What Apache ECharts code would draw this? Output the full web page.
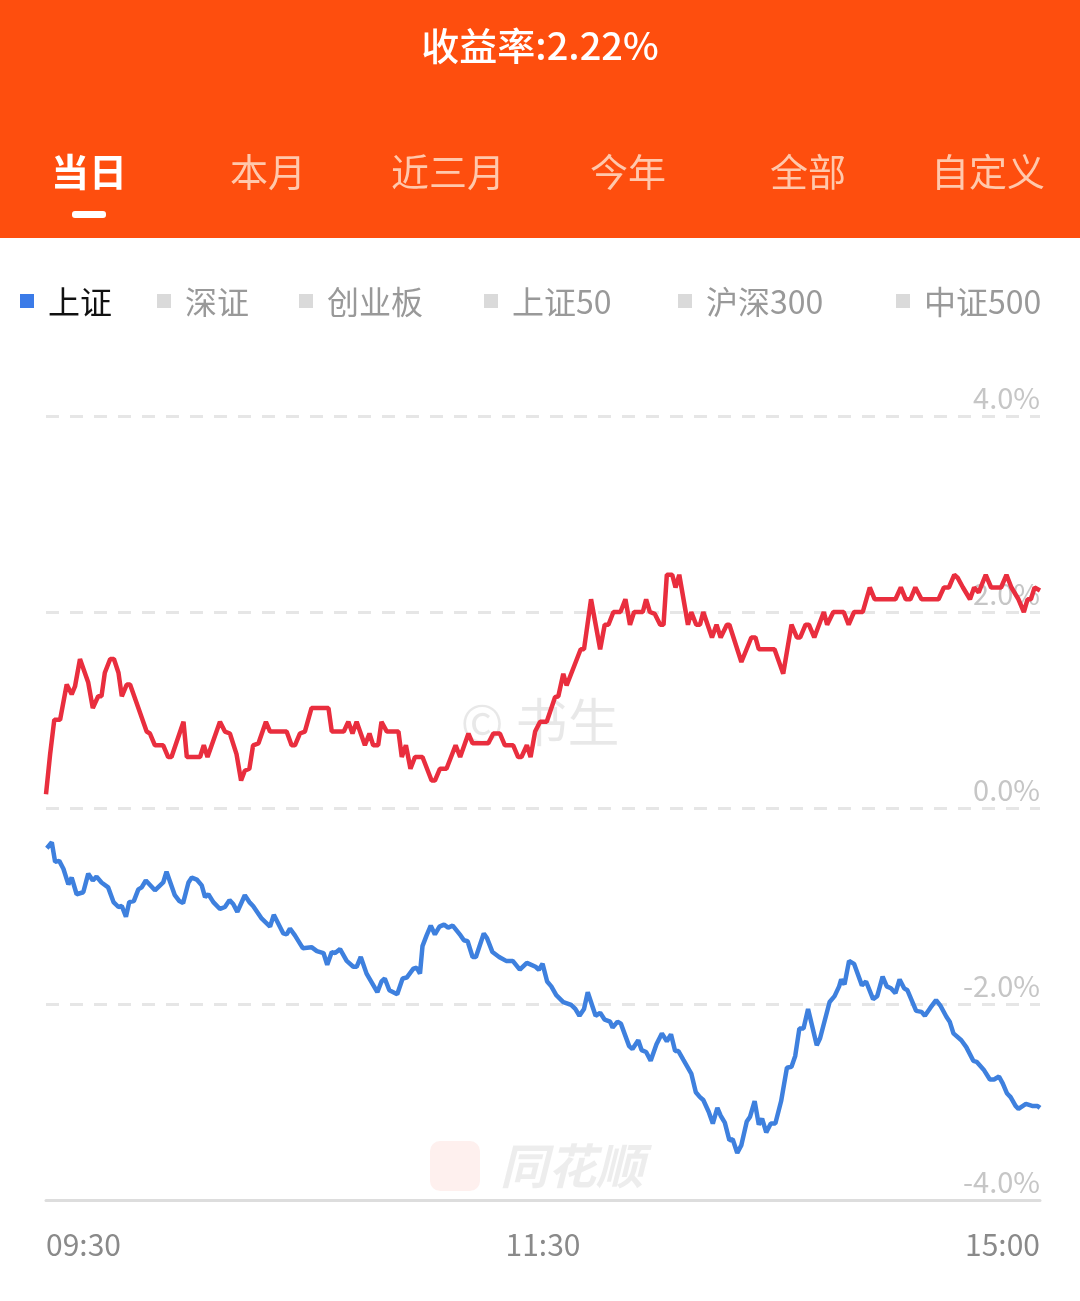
<!DOCTYPE html>
<html><head><meta charset="utf-8">
<script src="https://cdn.jsdelivr.net/npm/echarts@6/dist/echarts.min.js"></script>
<style>html,body{margin:0;padding:0;background:#fff}#c{width:1080px;height:1301px}</style>
</head><body><div id="c"></div>
<script>
const titleText = '收益率:2.22%';
const tabs = ['当日','本月','近三月','今年','全部','自定义'];
const tabCenters = [89,268,448,628,808,988];
const legendNames = ['上证','深证','创业板','上证50','沪深300','中证500'];
const legendX = [20,157,299,484,678,896];
const xTickLabels = {0:'09:30',120:'11:30',240:'15:00'};
// [minute index since 09:30 (trading minutes), return %]
const returnPoints = [[0,0.14],[1,0.55],[2,0.9],[3.4,0.9],[5,1.26],[6.2,1.16],[7,1.24],[8.2,1.52],[10.2,1.28],[11.3,1.02],[12.6,1.14],[13.4,1.14],[14.2,1.38],[15.5,1.52],[16.4,1.52],[17.5,1.38],[18.3,1.14],[19.5,1.26],[20.3,1.26],[21.9,1.07],[24.3,0.78],[25.1,0.76],[26.3,0.64],[28.3,0.64],[29.5,0.52],[30.3,0.52],[33.2,0.88],[34,0.52],[37.2,0.52],[38.1,0.64],[39,0.52],[42,0.88],[43.2,0.78],[44.4,0.76],[46,0.55],[47.1,0.28],[48,0.38],[49.1,0.4],[50,0.64],[51.3,0.66],[53.1,0.88],[54.1,0.78],[58.1,0.78],[59.3,0.64],[60.1,0.64],[61.3,0.76],[62.5,0.78],[64.1,1.02],[68.2,1.02],[69,0.78],[71.9,0.78],[73,0.88],[74,0.76],[75,0.88],[77,0.64],[78.1,0.76],[79,0.64],[80.2,0.64],[81,0.88],[82.3,0.78],[85.1,0.78],[85.9,0.52],[86.9,0.64],[88,0.4],[89.1,0.52],[90.9,0.52],[93.1,0.28],[93.9,0.28],[95.1,0.4],[96.7,0.4],[98.9,0.64],[100,0.52],[102,0.76],[103,0.66],[106.8,0.66],[108,0.76],[109.6,0.76],[110.8,0.64],[112.8,0.64],[114,0.52],[114.8,0.52],[116.1,0.64],[117,0.52],[118.1,0.78],[119.3,0.88],[120.9,0.88],[122.9,1.13],[123.7,1.14],[124.9,1.37],[125.7,1.25],[129.1,1.62],[129.9,1.62],[131.6,2.13],[133.8,1.62],[134.9,1.87],[135.8,1.87],[137,2.0],[138.7,2.0],[139.9,2.13],[141,1.87],[142,2.0],[144.1,2.0],[144.9,2.13],[145.8,2.0],[147,1.98],[148.3,1.87],[149.1,1.87],[149.9,2.38],[151.2,2.38],[152,2.25],[152.9,2.38],[155,1.87],[155.8,2.0],[157,1.87],[157.9,1.87],[158.7,2.0],[160.8,1.74],[161.9,1.87],[162.9,1.74],[164.4,1.87],[165,1.87],[167.9,1.49],[170.3,1.74],[171.3,1.74],[172.1,1.62],[175.9,1.62],[178,1.37],[180,1.87],[181.3,1.74],[182.1,1.74],[183.4,1.87],[184.2,1.87],[185.5,1.74],[187.8,2.0],[188.6,1.87],[190.1,2.0],[192.6,2.0],[193.8,1.87],[195.1,2.0],[197.2,2.0],[198.9,2.25],[200.1,2.13],[205.1,2.13],[206.4,2.25],[207.6,2.13],[208.7,2.13],[209.9,2.25],[211.4,2.13],[215.5,2.13],[216.8,2.25],[218,2.25],[219.3,2.38],[220.1,2.35],[221.4,2.25],[223.1,2.13],[224.1,2.25],[225.2,2.2],[226.9,2.38],[228.2,2.25],[230.6,2.25],[231.9,2.38],[233.1,2.25],[234.8,2.13],[236.1,2.0],[237,2.13],[237.8,2.13],[238.7,2.25],[240,2.22]];
const indexPoints = [[0.2,-0.41],[1.4,-0.35],[2.2,-0.55],[3.2,-0.54],[4.2,-0.62],[5.4,-0.78],[6.2,-0.71],[7.4,-0.88],[9,-0.86],[10.2,-0.67],[11.3,-0.74],[12.2,-0.7],[13.4,-0.76],[15,-0.81],[16.3,-0.96],[17.5,-1.01],[18.3,-1.0],[19.3,-1.11],[20.1,-0.96],[21.2,-0.95],[22.3,-0.83],[23.1,-0.81],[24.1,-0.74],[26.3,-0.84],[28.3,-0.76],[29.1,-0.65],[31.1,-0.89],[32.2,-0.95],[33.1,-0.97],[34.4,-0.76],[35.2,-0.71],[36.4,-0.73],[37.6,-0.79],[38.4,-0.91],[39.2,-0.88],[40.4,-0.96],[42,-1.03],[43.2,-1.01],[44.3,-0.94],[45.2,-0.98],[46.2,-1.06],[48,-0.89],[49.1,-0.96],[50,-1.0],[52.1,-1.13],[54.1,-1.21],[55,-1.09],[57.3,-1.28],[58.1,-1.29],[58.9,-1.23],[60.1,-1.3],[62,-1.43],[64.1,-1.42],[65.4,-1.46],[67,-1.48],[67.9,-1.6],[69,-1.47],[69.8,-1.48],[71,-1.44],[72.6,-1.56],[74.2,-1.62],[75,-1.62],[76,-1.52],[77.4,-1.69],[80,-1.88],[81,-1.77],[81.8,-1.74],[82.9,-1.86],[84.8,-1.9],[86.1,-1.74],[87.1,-1.73],[88.7,-1.64],[89.5,-1.63],[90.3,-1.69],[90.9,-1.41],[91.9,-1.3],[92.9,-1.2],[93.9,-1.29],[95,-1.21],[96.1,-1.19],[97.1,-1.22],[98.2,-1.2],[100.1,-1.3],[100.9,-1.35],[101.8,-1.36],[103,-1.52],[103.8,-1.52],[105.7,-1.28],[106.5,-1.33],[107.8,-1.47],[109.4,-1.52],[111.1,-1.56],[112.7,-1.56],[114.4,-1.65],[116.1,-1.58],[118.2,-1.62],[119,-1.65],[119.9,-1.59],[121,-1.77],[122,-1.82],[123.2,-1.91],[124.9,-1.98],[126.8,-2.01],[127.8,-2.05],[128.8,-2.12],[129.9,-2.05],[130.8,-1.88],[132.7,-2.12],[133.8,-2.09],[134.9,-2.16],[136.2,-2.18],[136.8,-2.24],[138,-2.18],[138.8,-2.2],[140.8,-2.43],[141.6,-2.46],[143,-2.37],[143.8,-2.47],[144.9,-2.49],[146,-2.58],[147.4,-2.41],[148.7,-2.3],[149.9,-2.38],[150.9,-2.31],[151.9,-2.48],[152.7,-2.48],[153.9,-2.57],[155.8,-2.71],[156.9,-2.9],[157.9,-2.95],[158.7,-2.98],[160,-3.1],[161,-3.22],[162.1,-3.06],[162.9,-3.14],[163.9,-3.21],[165,-3.39],[165.8,-3.38],[166.9,-3.52],[167.9,-3.44],[169.2,-3.2],[170,-3.15],[171.1,-2.99],[172.1,-3.23],[172.9,-3.17],[173.9,-3.31],[175,-3.22],[176.1,-3.22],[177.5,-2.99],[178.9,-2.65],[180,-2.64],[180.9,-2.53],[181.9,-2.25],[182.9,-2.25],[184,-2.05],[186.1,-2.42],[186.9,-2.35],[189.2,-1.98],[190.4,-1.92],[191.5,-1.82],[192,-1.75],[192.8,-1.8],[193.9,-1.56],[195.1,-1.59],[197,-1.81],[198,-1.77],[199.7,-1.95],[200.7,-1.92],[202,-1.72],[203,-1.82],[204,-1.84],[205.1,-1.89],[206.1,-1.75],[207.2,-1.84],[208,-1.86],[210.1,-2.07],[211.4,-2.08],[212.2,-2.12],[213.5,-2.04],[214.9,-1.96],[216,-2.02],[217.4,-2.13],[218.2,-2.18],[219.1,-2.3],[221,-2.37],[222.2,-2.44],[223.9,-2.58],[224.7,-2.59],[226.4,-2.67],[227.9,-2.77],[228.9,-2.77],[230.1,-2.74],[231,-2.81],[232,-2.91],[232.9,-2.95],[234.1,-3.04],[234.8,-3.07],[236.6,-3.02],[238.1,-3.04],[239.4,-3.04],[240,-3.06]];

const FONT = '"Noto Sans CJK SC", "Noto Sans", sans-serif';
const chart = echarts.init(document.getElementById('c'), null, {renderer:'canvas'});
const graphics = [
  {type:'rect', shape:{x:0,y:0,width:1080,height:238}, style:{fill:'#FE4E0E'}, z:-10},
  {type:'text', x:540, y:46, style:{text:titleText, fill:'#fff', font:'500 38px '+FONT, align:'center', verticalAlign:'middle'}},
  {type:'rect', shape:{x:72,y:211,width:34,height:7,r:3}, style:{fill:'#fff'}},
  {type:'text', x:540, y:722, style:{text:'© 书生', fill:'rgba(0,0,0,0.09)', font:'52px '+FONT, align:'center', verticalAlign:'middle'}, z:-5},
  {type:'rect', shape:{x:430,y:1141,width:50,height:50,r:10}, style:{fill:'rgba(240,60,40,0.08)'}, z:-5},
  {type:'text', x:572, y:1166, style:{text:'同花顺', fill:'rgba(0,0,0,0.07)', font:'italic bold 48px '+FONT, align:'center', verticalAlign:'middle'}, z:-5}
];
tabs.forEach((t,i)=>{
  graphics.push({type:'text', x:tabCenters[i], y:172, style:{text:t, fill: i===0?'#fff':'#FFC8AC', font:(i===0?'bold ':'')+'38px '+FONT, align:'center', verticalAlign:'middle'}});
});
legendNames.forEach((n,i)=>{
  graphics.push({type:'rect', shape:{x:legendX[i],y:294,width:14,height:14}, style:{fill: i===0?'#3B7BE8':'#DADADA'}});
  graphics.push({type:'text', x:legendX[i]+28, y:302, style:{text:n, fill: i===0?'#111':'#999', font:'32px '+FONT, align:'left', verticalAlign:'middle'}});
});

chart.setOption({
  animation:false,
  grid:{left:46, right:40, top:416, bottom:101},
  xAxis:{type:'value', min:0, max:240, interval:120,
    axisLine:{show:true, onZero:false, lineStyle:{color:'#DDDDDD', width:3}},
    axisTick:{show:false}, splitLine:{show:false},
    axisLabel:{fontSize:30, color:'#8A8A8A', fontFamily:FONT, margin:30,
      alignMinLabel:'left', alignMaxLabel:'right',
      formatter:v=>xTickLabels[v]||''}},
  yAxis:{type:'value', position:'right', min:-4, max:4, interval:2,
    axisLine:{show:false}, axisTick:{show:false},
    splitLine:{show:true, lineStyle:{color:'#E6E6E6', width:3, type:[13,11]}},
    axisLabel:{inside:true, margin:0, align:'right', verticalAlign:'bottom', fontSize:29, color:'#C6C6C6', fontFamily:FONT, padding:[0,0,4,0],
      formatter:v=>v.toFixed(1)+'%'}},
  series:[
    {name:'收益率', type:'line', data:returnPoints, showSymbol:false, lineStyle:{color:'#E92E3E', width:4.5}, z:3},
    {name:'上证', type:'line', data:indexPoints, showSymbol:false, lineStyle:{color:'#3E80DE', width:4.5}, z:3}
  ],
  graphic:graphics
});
</script></body></html>
